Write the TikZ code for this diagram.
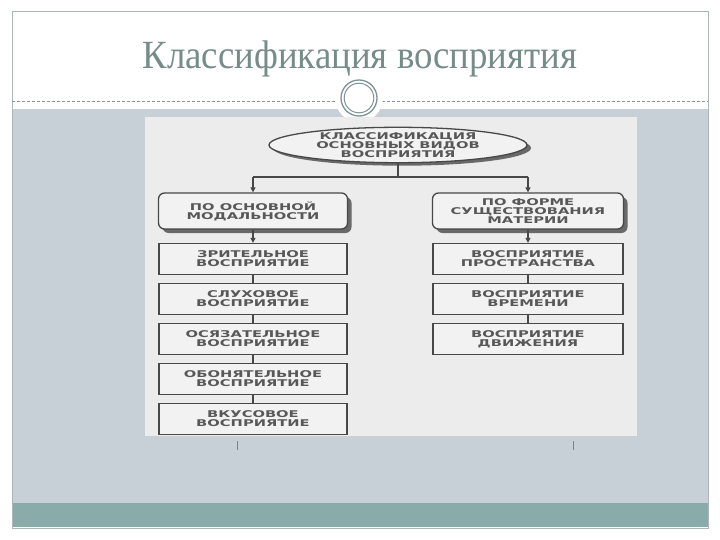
\documentclass[tikz,border=0pt]{standalone}
\usepackage{fontspec}
\setmainfont{Liberation Serif}
\newfontfamily\scanf[FakeStretch=1.58]{DejaVu Sans Bold}
\newfontfamily\titlef[FakeStretch=0.92]{Liberation Serif}
\usetikzlibrary{shapes.geometric,shadows,arrows.meta}
\definecolor{titlec}{RGB}{118,140,136}
\definecolor{panel}{RGB}{199,208,214}
\definecolor{barc}{RGB}{137,171,170}
\definecolor{framec}{RGB}{175,182,182}
\definecolor{dashc}{RGB}{140,148,148}
\definecolor{scanbg}{RGB}{236,236,236}
\definecolor{boxbg}{RGB}{242,242,242}
\definecolor{ink}{RGB}{72,72,72}
\definecolor{tink}{RGB}{88,88,88}
\definecolor{shade}{RGB}{105,105,105}
\definecolor{emb}{RGB}{125,148,146}
\begin{document}
\begin{tikzpicture}[x=1pt,y=-1pt,
  txt/.style={font=\scanf\fontsize{9.3}{9}\selectfont, text=tink, align=center},
  catbox/.style={txt, draw=ink, line width=1.3pt, fill=boxbg, minimum width=188pt, minimum height=31pt, inner sep=0pt},
  headbox/.style={catbox, rounded corners=6pt, minimum height=36pt,
    copy shadow={shadow xshift=4pt, shadow yshift=-4pt, fill=shade, draw=none}},
  rootell/.style={txt, ellipse, draw=ink, line width=1.3pt, fill=boxbg, minimum width=258pt, minimum height=34pt, inner sep=0pt,
    copy shadow={shadow xshift=4pt, shadow yshift=-3pt, fill=shade, draw=none}},
  link/.style={draw=ink, line width=1.2pt},
  arr/.style={link, -{Triangle[length=5pt,width=5pt]}},
]
\useasboundingbox (0,0) rectangle (720,540);
\fill[white] (0,0) rectangle (720,540);
% slide
\fill[panel] (12,109) rectangle (708,503);
\fill[barc] (12,503) rectangle (708,527);
\draw[framec, line width=1pt] (12,12) rectangle (708,528);
\draw[dashc, line width=0.8pt, dash pattern=on 3pt off 2pt] (12,101) -- (708,101);
\fill[white] (359,98) circle[radius=24pt];
\draw[emb, line width=1.3pt] (359,98) circle[radius=18pt];
\draw[emb, line width=1pt] (359,98) circle[radius=14.8pt];
\node[font=\titlef\fontsize{40}{43}\selectfont, text=titlec] (title) at (360,59) {Классификация восприятия};
% scan
\fill[scanbg] (145,117) rectangle (637,436);
\node[rootell] (root) at (398,145) {КЛАССИФИКАЦИЯ\\ОСНОВНЫХ ВИДОВ\\ВОСПРИЯТИЯ};
\node[headbox, minimum width=189pt] (lh) at (253,211) {ПО ОСНОВНОЙ\\МОДАЛЬНОСТИ};
\node[headbox, minimum width=191pt] (rh) at (528,211) {ПО ФОРМЕ\\СУЩЕСТВОВАНИЯ\\МАТЕРИИ};
\node[catbox] (l1) at (253,259) {ЗРИТЕЛЬНОЕ\\ВОСПРИЯТИЕ};
\node[catbox] (l2) at (253,299) {СЛУХОВОЕ\\ВОСПРИЯТИЕ};
\node[catbox] (l3) at (253,339) {ОСЯЗАТЕЛЬНОЕ\\ВОСПРИЯТИЕ};
\node[catbox] (l4) at (253,379) {ОБОНЯТЕЛЬНОЕ\\ВОСПРИЯТИЕ};
\node[catbox] (l5) at (253,419) {ВКУСОВОЕ\\ВОСПРИЯТИЕ};
\node[catbox, minimum width=190pt] (r1) at (528,259) {ВОСПРИЯТИЕ\\ПРОСТРАНСТВА};
\node[catbox, minimum width=190pt] (r2) at (528,299) {ВОСПРИЯТИЕ\\ВРЕМЕНИ};
\node[catbox, minimum width=190pt] (r3) at (528,339) {ВОСПРИЯТИЕ\\ДВИЖЕНИЯ};
% connectors
\coordinate (jn) at (398,177);
\coordinate (lj) at (253,177);
\coordinate (rj) at (528,177);
\draw[link] (root.south) -- (jn);
\draw[link] (lj) -- (rj);
\draw[arr] (lj) -- (lh.north);
\draw[arr] (rj) -- (rh.north);
\draw[arr] (lh.south) -- (l1.north);
\draw[link] (l1.south) -- (l2.north);
\draw[link] (l2.south) -- (l3.north);
\draw[link] (l3.south) -- (l4.north);
\draw[link] (l4.south) -- (l5.north);
\draw[arr] (rh.south) -- (r1.north);
\draw[link] (r1.south) -- (r2.north);
\draw[link] (r2.south) -- (r3.north);
% small ticks below the scan
\draw[gray, line width=0.6pt] (237,441) -- (237,450);
\draw[gray, line width=0.6pt] (573,441) -- (573,450);
\end{tikzpicture}
\end{document}
